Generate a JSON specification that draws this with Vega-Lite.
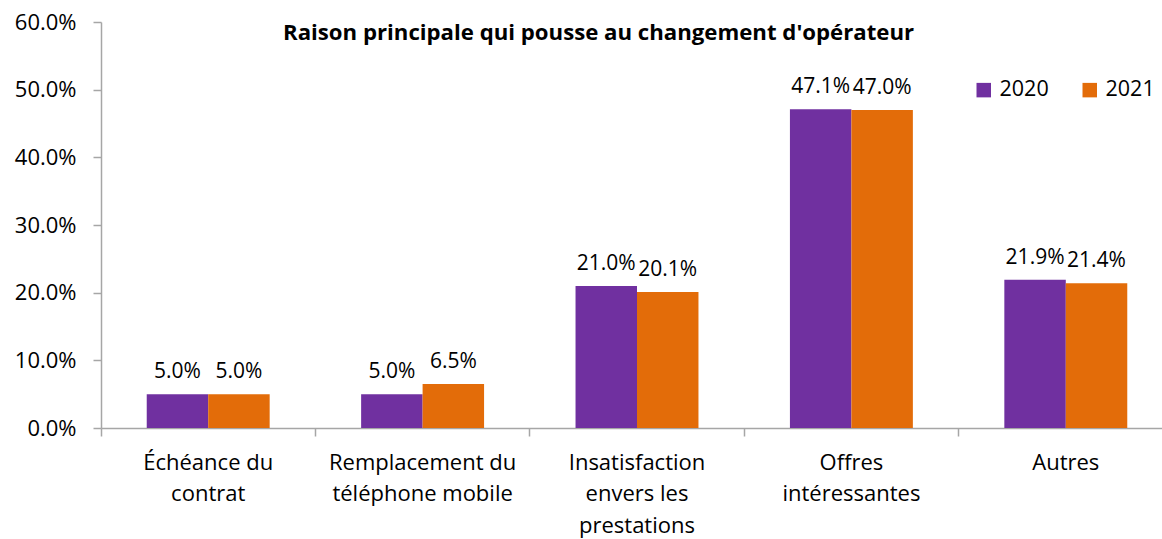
{
  "$schema": "https://vega.github.io/schema/vega-lite/v6.json",
  "autosize": "none",
  "width": 1061,
  "height": 406,
  "padding": {"left": 101, "top": 22, "right": 0, "bottom": 111},
  "background": "white",
  "config": {"view": {"stroke": null}, "font": "Open Sans"},
  "title": {
    "text": "Raison principale qui pousse au changement d'opérateur",
    "anchor": "start",
    "frame": "group",
    "dx": 182,
    "dy": 33,
    "fontSize": 22.2,
    "fontWeight": "bold",
    "font": "Open Sans",
    "color": "#000000",
    "offset": 0
  },
  "data": {
    "values": [
      {"raison": "Échéance du contrat", "annee": "2020", "part": 0.050},
      {"raison": "Échéance du contrat", "annee": "2021", "part": 0.050},
      {"raison": "Remplacement du téléphone mobile", "annee": "2020", "part": 0.050},
      {"raison": "Remplacement du téléphone mobile", "annee": "2021", "part": 0.065},
      {"raison": "Insatisfaction envers les prestations", "annee": "2020", "part": 0.210},
      {"raison": "Insatisfaction envers les prestations", "annee": "2021", "part": 0.201},
      {"raison": "Offres intéressantes", "annee": "2020", "part": 0.471},
      {"raison": "Offres intéressantes", "annee": "2021", "part": 0.470},
      {"raison": "Autres", "annee": "2020", "part": 0.219},
      {"raison": "Autres", "annee": "2021", "part": 0.214}
    ]
  },
  "encoding": {
    "x": {
      "field": "raison",
      "type": "nominal",
      "sort": null,
      "scale": {"paddingInner": 0, "paddingOuter": 0, "range": [0, 1072]},
      "axis": {
        "title": null,
        "labelAngle": 0,
        "labelFontSize": 22,
        "labelColor": "#000000",
        "labelFont": "Open Sans",
        "labelLineHeight": 31.5,
        "labelPadding": 16,
        "labelLimit": 300,
        "domainColor": "#A6A6A6",
        "domainWidth": 1.5,
        "tickColor": "#A6A6A6",
        "tickWidth": 1.5,
        "tickSize": 8,
        "bandPosition": 0,
        "labelExpr": "datum.value == 'Échéance du contrat' ? ['Échéance du', 'contrat'] : datum.value == 'Remplacement du téléphone mobile' ? ['Remplacement du', 'téléphone mobile'] : datum.value == 'Insatisfaction envers les prestations' ? ['Insatisfaction', 'envers les', 'prestations'] : datum.value == 'Offres intéressantes' ? ['Offres', 'intéressantes'] : datum.value"
      }
    },
    "xOffset": {
      "field": "annee",
      "type": "nominal",
      "scale": {"paddingInner": 0, "paddingOuter": 0.744}
    },
    "y": {
      "field": "part",
      "type": "quantitative",
      "scale": {"domain": [0, 0.6]},
      "axis": {
        "title": null,
        "format": ".1%",
        "values": [0, 0.1, 0.2, 0.3, 0.4, 0.5, 0.6],
        "labelOverlap": false,
        "grid": false,
        "labelFontSize": 22,
        "labelColor": "#000000",
        "labelFont": "Open Sans",
        "labelPadding": 17,
        "domainColor": "#A6A6A6",
        "domainWidth": 1.5,
        "tickColor": "#A6A6A6",
        "tickWidth": 1.5,
        "tickSize": 8
      }
    }
  },
  "layer": [
    {
      "mark": {"type": "bar"},
      "encoding": {
        "color": {
          "field": "annee",
          "type": "nominal",
          "scale": {"domain": ["2020", "2021"], "range": ["#7030A0", "#E36C09"]},
          "legend": {
            "title": null,
            "orient": "none",
            "legendX": 872,
            "legendY": 57,
            "direction": "horizontal",
            "symbolType": "square",
            "symbolSize": 210,
            "symbolStrokeWidth": 0,
            "labelFontSize": 21.5,
            "labelFont": "Open Sans",
            "labelColor": "#000000",
            "labelOffset": 5,
            "columnPadding": 30,
            "padding": 0
          }
        }
      }
    },
    {
      "mark": {"type": "text", "dy": -16, "baseline": "alphabetic", "fontSize": 21, "font": "Open Sans", "color": "#000000"},
      "encoding": {
        "text": {"field": "part", "type": "quantitative", "format": ".1%"}
      }
    }
  ]
}
